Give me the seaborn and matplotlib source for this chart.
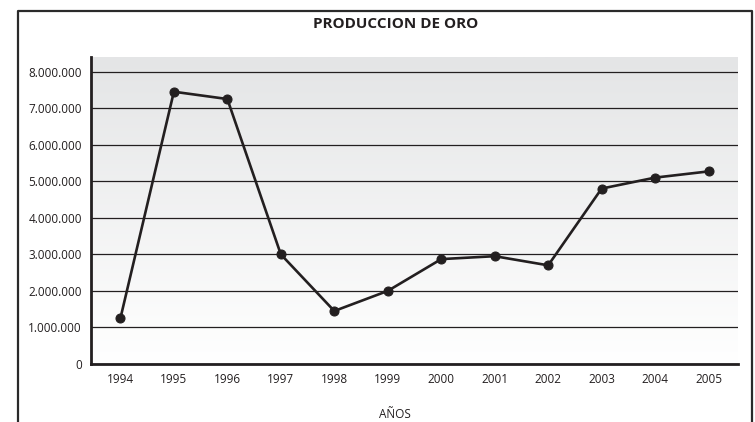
import numpy as np
import matplotlib
matplotlib.use("Agg")
import matplotlib.pyplot as plt
import seaborn as sns
from matplotlib.lines import Line2D
from matplotlib.ticker import FuncFormatter, MultipleLocator
from matplotlib.colors import LinearSegmentedColormap

# data
years = [1994, 1995, 1996, 1997, 1998, 1999, 2000, 2001, 2002, 2003, 2004, 2005]
produccion = [1250000, 7450000, 7250000, 3000000, 1450000, 2000000,
              2870000, 2950000, 2700000, 4800000, 5100000, 5270000]
title = "PRODUCCION DE ORO"
xlabel = "AÑOS"

ink = "#231f20"

sns.set_style("white")
plt.rcParams["font.family"] = ["Open Sans", "DejaVu Sans"]

fig = plt.figure(figsize=(7.55, 4.22), dpi=100)
ax = fig.add_axes([91 / 755, 1 - 364 / 422, (738 - 91) / 755, (364 - 57) / 422])

# gradient background: light gray at top to white at bottom
cmap = LinearSegmentedColormap.from_list("bg", ["#ffffff", "#e4e5e6"])
grad = np.linspace(0, 1, 256).reshape(-1, 1)
ax.imshow(grad, extent=[0, 1, 0, 1], transform=ax.transAxes, origin="lower",
          aspect="auto", cmap=cmap, zorder=0)

sns.lineplot(x=years, y=produccion, ax=ax, color=ink, linewidth=1.9,
             marker="o", markersize=6.5, markeredgecolor=ink, zorder=3)

ax.set_xlim(1993.45, 2005.55)
ax.set_ylim(0, 8.4e6)
ax.set_xticks(years)
ax.set_xticklabels([str(y) for y in years])
ax.yaxis.set_major_locator(MultipleLocator(1e6))
ax.yaxis.set_major_formatter(FuncFormatter(lambda v, p: f"{int(v):,}".replace(",", ".")))

ax.grid(axis="y", color=ink, linewidth=0.9)
ax.grid(axis="x", visible=False)
ax.set_axisbelow(False)
for ln in ax.get_ygridlines():
    ln.set_zorder(1)

for side in ["top", "right"]:
    ax.spines[side].set_visible(False)
for side in ["left", "bottom"]:
    ax.spines[side].set_visible(True)
    ax.spines[side].set_color(ink)
    ax.spines[side].set_linewidth(2.0)
    ax.spines[side].set_zorder(4)

ax.tick_params(axis="both", length=0, labelsize=8.5, colors=ink)
ax.tick_params(axis="y", pad=6.5)
ax.tick_params(axis="x", pad=6.5)

ax.set_xlabel(xlabel, fontsize=8.5, color=ink)
ax.xaxis.set_label_coords((395 - 91) / 647, (364 - 408) / 307)
ax.set_ylabel("")

fig.text(396 / 755, 1 - 24 / 422, title, ha="center", va="center",
         fontsize=11, fontweight="bold", color=ink)

# outer frame (open at the bottom)
fx0, fx1, fy1 = 18 / 755, 752 / 755, 1 - 11 / 422
fig.add_artist(Line2D([fx0, fx0, fx1, fx1], [0, fy1, fy1, 0],
                      transform=fig.transFigure, color="#2a2a2a", linewidth=1.6))

fig.savefig("out.png", dpi=100)
